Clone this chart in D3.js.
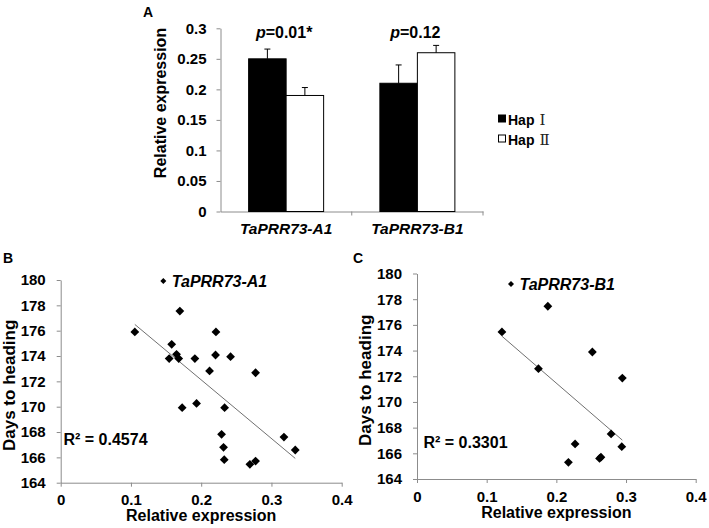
<!DOCTYPE html>
<html><head><meta charset="utf-8">
<script src="https://cdn.jsdelivr.net/npm/d3@7"></script>
<style>
body{margin:0;background:#fff}
svg{display:block}
text{font-family:"Liberation Sans",Arial,sans-serif;font-weight:bold;fill:#000}
</style>
</head><body>
<svg id="chart" width="709" height="528"></svg>
<script>
// ---------- Panel A data ----------
const categories = ["TaPRR73-A1", "TaPRR73-B1"];
const hapI = [0.25, 0.21];
const hapII = [0.19, 0.26];
const errI = [0.016, 0.03];
const errII = [0.013, 0.012];
const pValues = ["=0.01*", "=0.12"];
const barYTicks = [0, 0.05, 0.1, 0.15, 0.2, 0.25, 0.3];
const legendNames = ["Hap", "Hap"];
const legendNumerals = ["Ⅰ", "Ⅱ"];

// ---------- Panel B data (TaPRR73-A1) ----------
const a1Expr = [0.1055,0.1696,0.158,0.1649,0.1544,0.168,0.191,0.221,0.2204,0.2418,0.2119,0.2774,0.1729,0.1934,0.2333,0.229,0.2318,0.2328,0.2693,0.2774,0.3178,0.3339];
const a1Days = [175.9,177.55,174.92,174.13,173.8,173.8,173.8,175.9,174.08,173.95,172.82,172.68,169.92,170.26,169.92,167.82,166.79,165.82,165.45,165.71,167.6,166.58];

// ---------- Panel C data (TaPRR73-B1) ----------
const b1Expr = [0.1219,0.1878,0.1743,0.2517,0.2947,0.2786,0.2269,0.2939,0.2173,0.262,0.264];
const b1Days = [175.45,177.45,172.59,173.89,171.86,167.51,166.73,166.52,165.3,165.6,165.7];

const scatterXTicks = [0, 0.1, 0.2, 0.3, 0.4];
const scatterYTicks = [164, 166, 168, 170, 172, 174, 176, 178, 180];
const r2Labels = ["R² = 0.4574", "R² = 0.3301"];

const svg = d3.select("#chart");
const AXIS = "#8c8c8c";

function styleAxis(g) {
  g.select(".domain").attr("stroke", AXIS).attr("stroke-width", 1);
  g.selectAll(".tick line").attr("stroke", AXIS);
  g.selectAll(".tick text").attr("font-size", 15).attr("font-weight", "bold")
    .attr("font-family", '"Liberation Sans",Arial,sans-serif').attr("fill", "#000");
}

// ================= Panel A =================
(function () {
  const x = d3.scaleBand().domain(categories).range([220.5, 483]);
  const y = d3.scaleLinear().domain([0, 0.3]).range([211.5, 28.3]);
  const sub = d3.scaleBand().domain([0, 1]).range([0, x.bandwidth()]).paddingInner(0).paddingOuter(0.75);
  const g = svg.append("g");

  g.append("g").attr("transform", `translate(${x.range()[0]},0)`)
    .call(d3.axisLeft(y).tickValues(barYTicks).tickFormat(d => String(d)).tickSize(4).tickSizeOuter(0).tickPadding(10))
    .call(styleAxis);

  const xa = g.append("g").attr("transform", `translate(0,${y(0)})`)
    .call(d3.axisBottom(x).tickSize(0).tickSizeOuter(0).tickPadding(11))
    .call(styleAxis);
  xa.selectAll(".tick text").attr("font-size", 15.5).attr("font-style", "italic");
  const bounds = categories.map(c => x(c) + x.bandwidth());
  xa.selectAll("line.bound").data(bounds).join("line").attr("class", "bound")
    .attr("x1", d => d).attr("x2", d => d).attr("y1", 0).attr("y2", 4).attr("stroke", AXIS);

  const series = [
    { vals: hapI, errs: errI, fill: "#000" },
    { vals: hapII, errs: errII, fill: "#fff" }
  ];
  series.forEach((s, si) => {
    categories.forEach((c, ci) => {
      const bx = x(c) + sub(si);
      const bw = sub.bandwidth();
      g.append("rect").attr("x", bx).attr("y", y(s.vals[ci])).attr("width", bw)
        .attr("height", y(0) - y(s.vals[ci])).attr("fill", s.fill).attr("stroke", "#000").attr("stroke-width", 1);
      const cx = bx + bw / 2;
      g.append("line").attr("x1", cx).attr("x2", cx).attr("y1", y(s.vals[ci])).attr("y2", y(s.vals[ci] + s.errs[ci]))
        .attr("stroke", "#000").attr("stroke-width", 1);
      g.append("line").attr("x1", cx - 3).attr("x2", cx + 3).attr("y1", y(s.vals[ci] + s.errs[ci])).attr("y2", y(s.vals[ci] + s.errs[ci]))
        .attr("stroke", "#000").attr("stroke-width", 1);
    });
  });

  categories.forEach((c, ci) => {
    const t = g.append("text").attr("x", x(c) + x.bandwidth() / 2 - 2).attr("y", 38)
      .attr("text-anchor", "middle").attr("font-size", 16);
    t.append("tspan").attr("font-style", "italic").text("p");
    t.append("tspan").text(pValues[ci]);
  });

  g.append("text").attr("transform", "translate(166,103) rotate(-90)").attr("text-anchor", "middle")
    .attr("font-size", 16).text("Relative expression");

  series.forEach((s, si) => {
    const ly = 115 + si * 20;
    g.append("rect").attr("x", 498.5).attr("y", ly).attr("width", 7).attr("height", 7)
      .attr("fill", s.fill).attr("stroke", "#000").attr("stroke-width", 1);
    const t = g.append("text").attr("x", 508).attr("y", ly + 10).attr("font-size", 14);
    t.append("tspan").text(legendNames[si]);
    t.append("tspan").attr("dx", 5).attr("font-weight", "normal").attr("font-family", '"DejaVu Serif",serif')
      .attr("font-size", 15).attr("fill", "#222").text(legendNumerals[si]);
  });

  svg.append("text").attr("x", 143).attr("y", 17).attr("font-size", 14).text("A");
})();

// ================= Scatter panels =================
function scatter(o) {
  const x = d3.scaleLinear().domain([0, 0.4]).range([o.x0, o.x1]);
  const y = d3.scaleLinear().domain([164, 180]).range([o.y0, o.y1]);
  const g = svg.append("g");

  g.append("g").attr("transform", `translate(${o.x0},0)`)
    .call(d3.axisLeft(y).tickValues(scatterYTicks).tickFormat(d => String(d)).tickSize(4).tickSizeOuter(0).tickPadding(11))
    .call(styleAxis);
  g.append("g").attr("transform", `translate(0,${o.y0})`)
    .call(d3.axisBottom(x).tickValues(scatterXTicks).tickFormat(d => String(d)).tickSize(4).tickSizeOuter(0).tickPadding(8))
    .call(styleAxis);

  const xs = o.xs, ys = o.ys;
  const mx = d3.mean(xs), my = d3.mean(ys);
  const sxy = d3.sum(xs, (v, i) => (v - mx) * (ys[i] - my));
  const sxx = d3.sum(xs, v => (v - mx) * (v - mx));
  const slope = sxy / sxx, icpt = my - slope * mx;
  const xmin = d3.min(xs), xmax = d3.max(xs);
  g.append("line").attr("x1", x(xmin)).attr("y1", y(icpt + slope * xmin))
    .attr("x2", x(xmax)).attr("y2", y(icpt + slope * xmax))
    .attr("stroke", "#707070").attr("stroke-width", 1);

  const h = 4.4;
  const diamond = `M0,${-h}L${h},0L0,${h}L${-h},0Z`;
  g.selectAll("path.pt").data(xs.map((v, i) => [v, ys[i]])).join("path").attr("class", "pt")
    .attr("d", diamond).attr("transform", d => `translate(${x(d[0])},${y(d[1])})`).attr("fill", "#000");

  const lh = 3;
  g.append("path").attr("d", `M0,${-lh}L${lh},0L0,${lh}L${-lh},0Z`)
    .attr("transform", `translate(${o.legX},${o.legY})`).attr("fill", "#000");
  g.append("text").attr("x", o.legX + 8.5).attr("y", o.legY + 6).attr("font-size", 16)
    .attr("font-style", "italic").text(o.name);

  g.append("text").attr("x", o.r2x).attr("y", o.r2y).attr("font-size", 16).text(o.r2);

  g.append("text").attr("x", (o.x0 + o.x1) / 2).attr("y", o.y0 + 38.5).attr("text-anchor", "middle")
    .attr("font-size", 16).text("Relative expression");
  g.append("text").attr("transform", `translate(${o.ytx},${(o.y0 + o.y1) / 2 + 4}) rotate(-90)`)
    .attr("text-anchor", "middle").attr("font-size", 17).text("Days to heading");

  svg.append("text").attr("x", o.lblX).attr("y", 263).attr("font-size", 14).text(o.lbl);
}

scatter({ xs: a1Expr, ys: a1Days, x0: 60.7, x1: 341.7, y0: 482.7, y1: 280,
  name: categories[0], legX: 163.3, legY: 281, r2: r2Labels[0], r2x: 63.5, r2y: 445,
  ytx: 15, lbl: "B", lblX: 3 });
scatter({ xs: b1Expr, ys: b1Days, x0: 417, x1: 695.7, y0: 479, y1: 273.5,
  name: categories[1], legX: 511, legY: 284, r2: r2Labels[1], r2x: 423.5, r2y: 447.5,
  ytx: 371, lbl: "C", lblX: 353 });
</script>
</body></html>
